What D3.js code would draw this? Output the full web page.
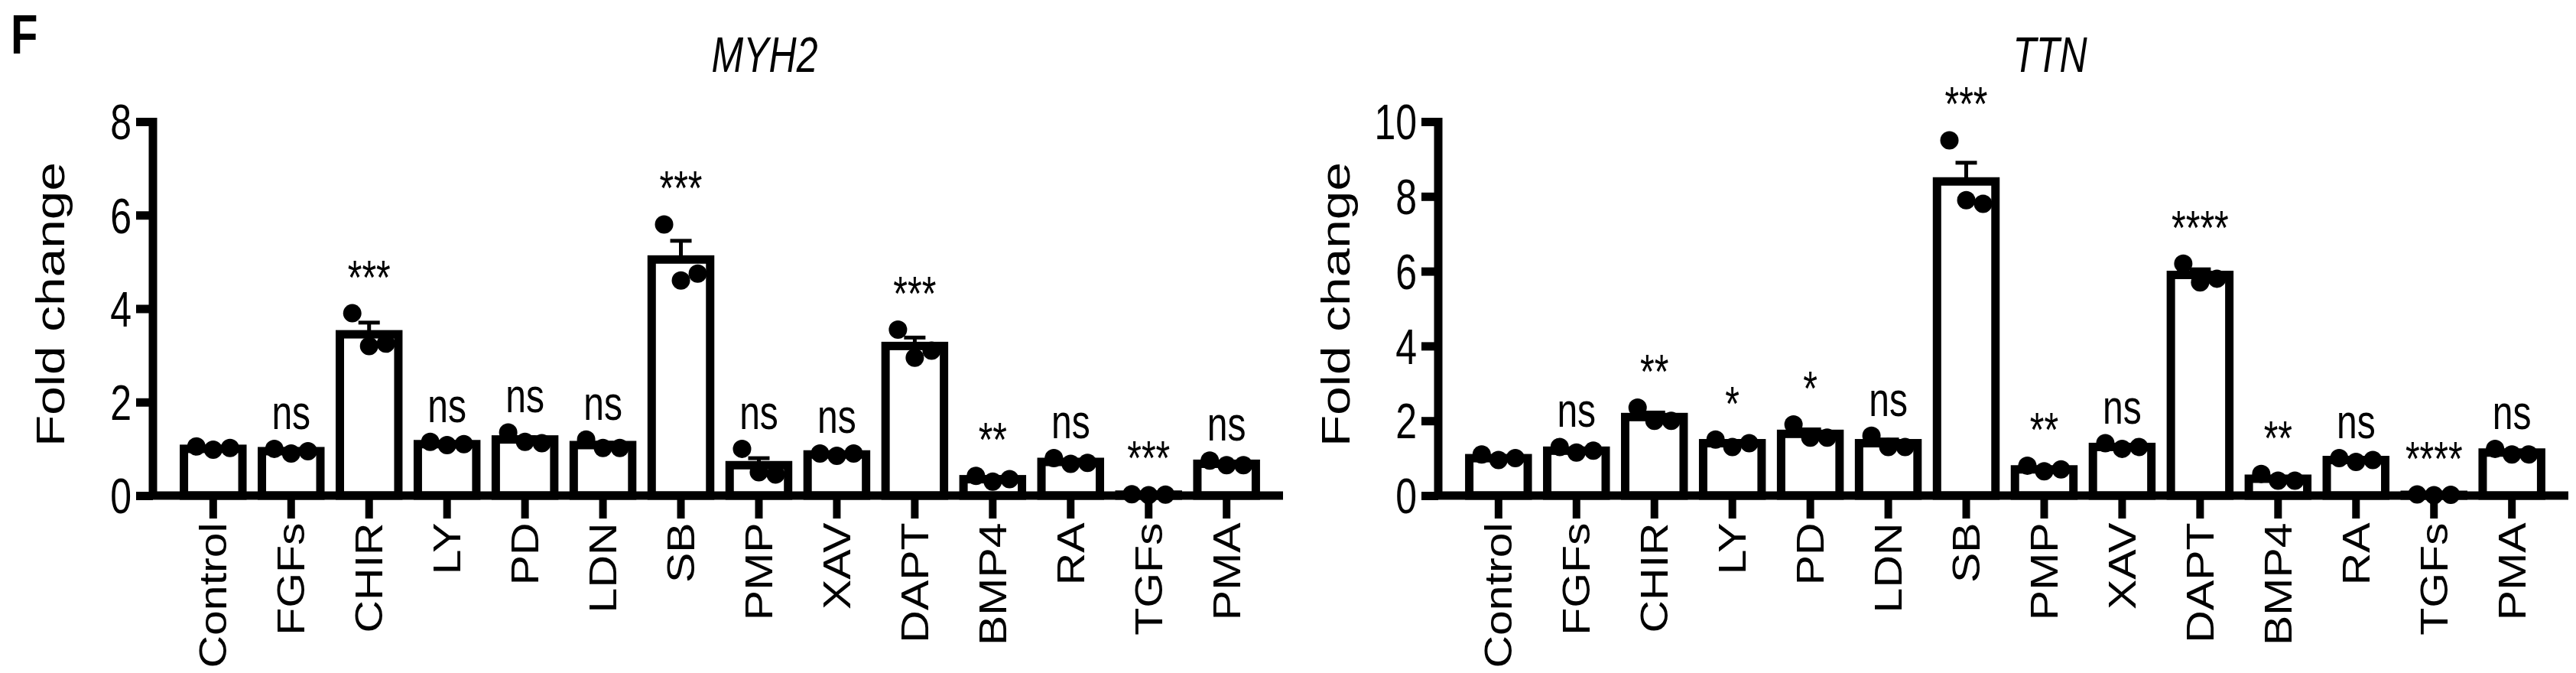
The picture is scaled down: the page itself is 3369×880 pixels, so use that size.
<!DOCTYPE html>
<html><head><meta charset="utf-8">
<script src="https://cdn.jsdelivr.net/npm/d3@7"></script>
<style>body{margin:0;background:#fff}text{font-family:Arial,"Liberation Sans",sans-serif}</style>
</head><body><svg id="c" width="3369" height="880"></svg>
<script>
const categories = ['Control','FGFs','CHIR','LY','PD','LDN','SB','PMP','XAV','DAPT','BMP4','RA','TGFs','PMA'];

const myh2Mean = [1.0, 0.95, 3.45, 1.1, 1.2, 1.08, 5.05, 0.65, 0.88, 3.2, 0.35, 0.72, 0.02, 0.68];
const myh2Sem  = [0.04, 0.04, 0.25, 0.03, 0.05, 0.05, 0.4, 0.15, 0.03, 0.18, 0.04, 0.04, 0.01, 0.03];
const myh2Pts  = [[1.05,0.98,1.02],[1.0,0.9,0.95],[3.9,3.2,3.25],[1.15,1.08,1.1],[1.35,1.15,1.12],[1.2,1.02,1.02],
                  [5.8,4.6,4.75],[1.0,0.5,0.45],[0.9,0.85,0.9],[3.55,2.95,3.1],[0.42,0.3,0.35],[0.8,0.68,0.7],
                  [0.03,0.01,0.02],[0.75,0.65,0.65]];
const myh2Sig  = ['','ns','***','ns','ns','ns','***','ns','ns','***','**','ns','***','ns'];

const ttnMean = [1.0, 1.2, 2.1, 1.4, 1.65, 1.4, 8.4, 0.7, 1.3, 5.9, 0.45, 0.95, 0.02, 1.15];
const ttnSem  = [0.04, 0.05, 0.12, 0.06, 0.12, 0.1, 0.5, 0.04, 0.05, 0.15, 0.05, 0.03, 0.01, 0.04];
const ttnPts  = [[1.1,0.95,1.0],[1.3,1.15,1.2],[2.35,2.0,2.0],[1.5,1.3,1.4],[1.9,1.55,1.55],[1.6,1.3,1.3],
                 [9.5,7.9,7.8],[0.8,0.65,0.7],[1.4,1.25,1.3],[6.2,5.7,5.8],[0.58,0.4,0.4],[1.0,0.9,0.95],
                 [0.03,0.01,0.02],[1.25,1.1,1.1]];
const ttnSig  = ['','ns','**','*','*','ns','***','**','ns','****','**','ns','****','ns'];

const FONT = 'Arial,"Liberation Sans",sans-serif';
const svg = d3.select('#c');
svg.append('text').attr('transform', 'translate(14,70) scale(1,1.25)')
  .attr('font-size', 58).attr('font-weight', 'bold').text('F');

function panel(x0, title, mean, sem, pts, sig, ymax, yticks) {
  const left = x0 + 200, right = x0 + 1678, top = 159, bottom = 648;
  const x = d3.scaleBand().domain(categories).range([left + 10, right - 5]).paddingInner(0.25).paddingOuter(0.3);
  const y = d3.scaleLinear().domain([0, ymax]).range([bottom, top]);
  const g = svg.append('g');

  g.append('text').attr('transform', `translate(${x0 + 1000},94) scale(1,1.3)`).attr('text-anchor', 'middle')
    .attr('font-size', 50).attr('font-style', 'italic').text(title);
  g.append('text').attr('transform', `translate(${x0 + 84},398) rotate(-90) scale(1.3,1)`).attr('text-anchor', 'middle')
    .attr('font-size', 52).text('Fold change');

  const bars = g.selectAll('g.bar').data(categories).enter().append('g');
  bars.append('rect')
    .attr('x', d => x(d)).attr('width', x.bandwidth())
    .attr('y', (d, i) => y(mean[i])).attr('height', (d, i) => bottom - y(mean[i]))
    .attr('fill', '#fff').attr('stroke', '#000').attr('stroke-width', 11);
  bars.each(function (d, i) {
    const s = d3.select(this), cx = x(d) + x.bandwidth() / 2;
    s.append('line').attr('x1', cx).attr('x2', cx).attr('y1', y(mean[i])).attr('y2', y(mean[i] + sem[i]))
      .attr('stroke', '#000').attr('stroke-width', 5);
    s.append('line').attr('x1', cx - 14).attr('x2', cx + 14).attr('y1', y(mean[i] + sem[i])).attr('y2', y(mean[i] + sem[i]))
      .attr('stroke', '#000').attr('stroke-width', 5);
    s.selectAll('circle').data(pts[i]).enter().append('circle')
      .attr('cx', (v, k) => cx + (k - 1) * 22).attr('cy', v => y(v)).attr('r', 12).attr('fill', '#000');
    const topv = Math.max(d3.max(pts[i]), mean[i] + sem[i]);
    s.append('text').attr('transform', `translate(${cx},${y(topv) - 26}) scale(1,1.3)`).attr('text-anchor', 'middle')
      .attr('font-size', 48).text(sig[i]);
  });

  const ya = g.append('g').attr('transform', `translate(${left},0)`)
    .call(d3.axisLeft(y).tickValues(yticks).tickSize(22).tickPadding(6));
  ya.select('.domain').attr('stroke-width', 11).attr('d', `M0,${top - 5}V${bottom + 5}`);
  ya.selectAll('.tick line').attr('stroke-width', 11);
  ya.selectAll('.tick text').attr('font-size', 50).attr('font-family', FONT)
    .attr('transform', 'translate(-28,0) scale(1,1.3)').attr('x', 0).attr('dy', '0.35em');

  const xa = g.append('g').attr('transform', `translate(0,${bottom})`)
    .call(d3.axisBottom(x).tickSize(30).tickPadding(10));
  xa.select('.domain').attr('stroke-width', 11).attr('d', `M${left - 5},0H${right}`);
  xa.selectAll('.tick line').attr('stroke-width', 10);
  xa.selectAll('.tick text').attr('font-size', 50).attr('font-family', FONT)
    .attr('text-anchor', 'end').attr('transform', 'rotate(-90) scale(1.18,1)').attr('x', -30).attr('y', 0).attr('dy', '0.35em');
}

panel(0, 'MYH2', myh2Mean, myh2Sem, myh2Pts, myh2Sig, 8, [0, 2, 4, 6, 8]);
panel(1681, 'TTN', ttnMean, ttnSem, ttnPts, ttnSig, 10, [0, 2, 4, 6, 8, 10]);
</script></body></html>
